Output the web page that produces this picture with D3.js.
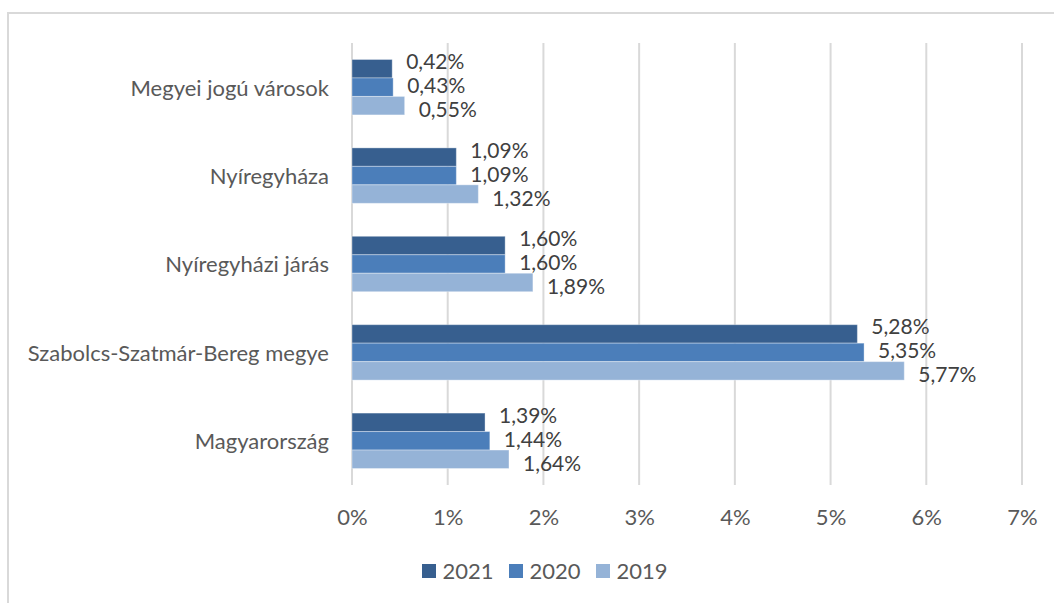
<!DOCTYPE html>
<html><head><meta charset="utf-8">
<script src="https://cdn.jsdelivr.net/npm/d3@7"></script>
<style>
html,body{margin:0;padding:0;background:#fff;}
svg{display:block;font-family:Lato,"Open Sans",sans-serif;}
</style></head>
<body>
<svg id="chart" width="1054" height="603"></svg>
<script>
const categories = ["Megyei jogú városok","Nyíregyháza","Nyíregyházi járás","Szabolcs-Szatmár-Bereg megye","Magyarország"];
const seriesNames = ["2021","2020","2019"];
const values2021 = [0.42, 1.09, 1.60, 5.28, 1.39];
const values2020 = [0.43, 1.09, 1.60, 5.35, 1.44];
const values2019 = [0.55, 1.32, 1.89, 5.77, 1.64];
const tickValues = [0,1,2,3,4,5,6,7];
const colors = ["#375F8F","#4B7EBA","#95B3D7"];

const seriesValues = [values2021, values2020, values2019];
const svg = d3.select("#chart");
const FS = 22;
const FSL = 21;

// frame
svg.append("rect").attr("x",8).attr("y",13).attr("width",1100).attr("height",700)
  .attr("fill","none").attr("stroke","#d9d9d9").attr("stroke-width",2);

const x = d3.scaleLinear().domain([0,7]).range([352,1022]);
const p = 0.373;
const y = d3.scaleBand().domain(categories).range([43,485]).paddingInner(p).paddingOuter(p/2);
const ys = d3.scaleBand().domain(seriesNames).range([0,y.bandwidth()]);

// gridlines
svg.append("g").selectAll("line").data(tickValues).join("line")
  .attr("x1",d=>x(d)).attr("x2",d=>x(d)).attr("y1",43).attr("y2",485)
  .attr("stroke","#d9d9d9").attr("stroke-width",2);

// x axis labels
const xAxis = d3.axisBottom(x).tickValues(tickValues).tickSize(0).tickPadding(0).tickFormat(d=>d+"%");
const gx = svg.append("g").attr("transform","translate(0,485)").call(xAxis);
gx.select(".domain").remove();
gx.selectAll("text").attr("font-size",FS).attr("fill","#595959").attr("font-family","Lato")
  .attr("dy",null).attr("y",40);

// y axis labels
const yAxis = d3.axisLeft(y).tickSize(0).tickPadding(0);
const gy = svg.append("g").attr("transform","translate(329,0)").call(yAxis);
gy.select(".domain").remove();
gy.selectAll("text").attr("font-size",FS).attr("fill","#595959").attr("font-family","Lato")
  .attr("dy","0.38em");

// bars
const labelShift = [-7,-1.5,4];
seriesNames.forEach((s,si)=>{
  const g = svg.append("g");
  g.selectAll("rect").data(categories).join("rect")
    .attr("x",x(0))
    .attr("y",(c)=>y(c)+ys(s))
    .attr("width",(c,i)=>x(seriesValues[si][i])-x(0))
    .attr("height",ys.bandwidth())
    .attr("fill",colors[si])
    .attr("stroke","rgba(255,255,255,0.35)").attr("stroke-width",1);
  g.selectAll("text").data(categories).join("text")
    .attr("x",(c,i)=>x(seriesValues[si][i])+14)
    .attr("y",(c)=>y(c)+ys(s)+ys.bandwidth()/2+labelShift[si])
    .attr("dy","0.36em")
    .attr("font-size",FSL).attr("fill","#404040")
    .text((c,i)=>seriesValues[si][i].toFixed(2).replace(".",",")+"%");
});

// legend
const legendX = d3.scaleBand().domain(seriesNames).range([422,422+87*3]);
const lg = svg.append("g").selectAll("g").data(seriesNames).join("g")
  .attr("transform",d=>`translate(${legendX(d)},564)`);
lg.append("rect").attr("width",14).attr("height",14).attr("fill",(d,i)=>colors[i]);
lg.append("text").attr("x",20.5).attr("y",14.5).attr("font-size",FS).attr("fill","#595959").text(d=>d);
</script>
</body></html>
